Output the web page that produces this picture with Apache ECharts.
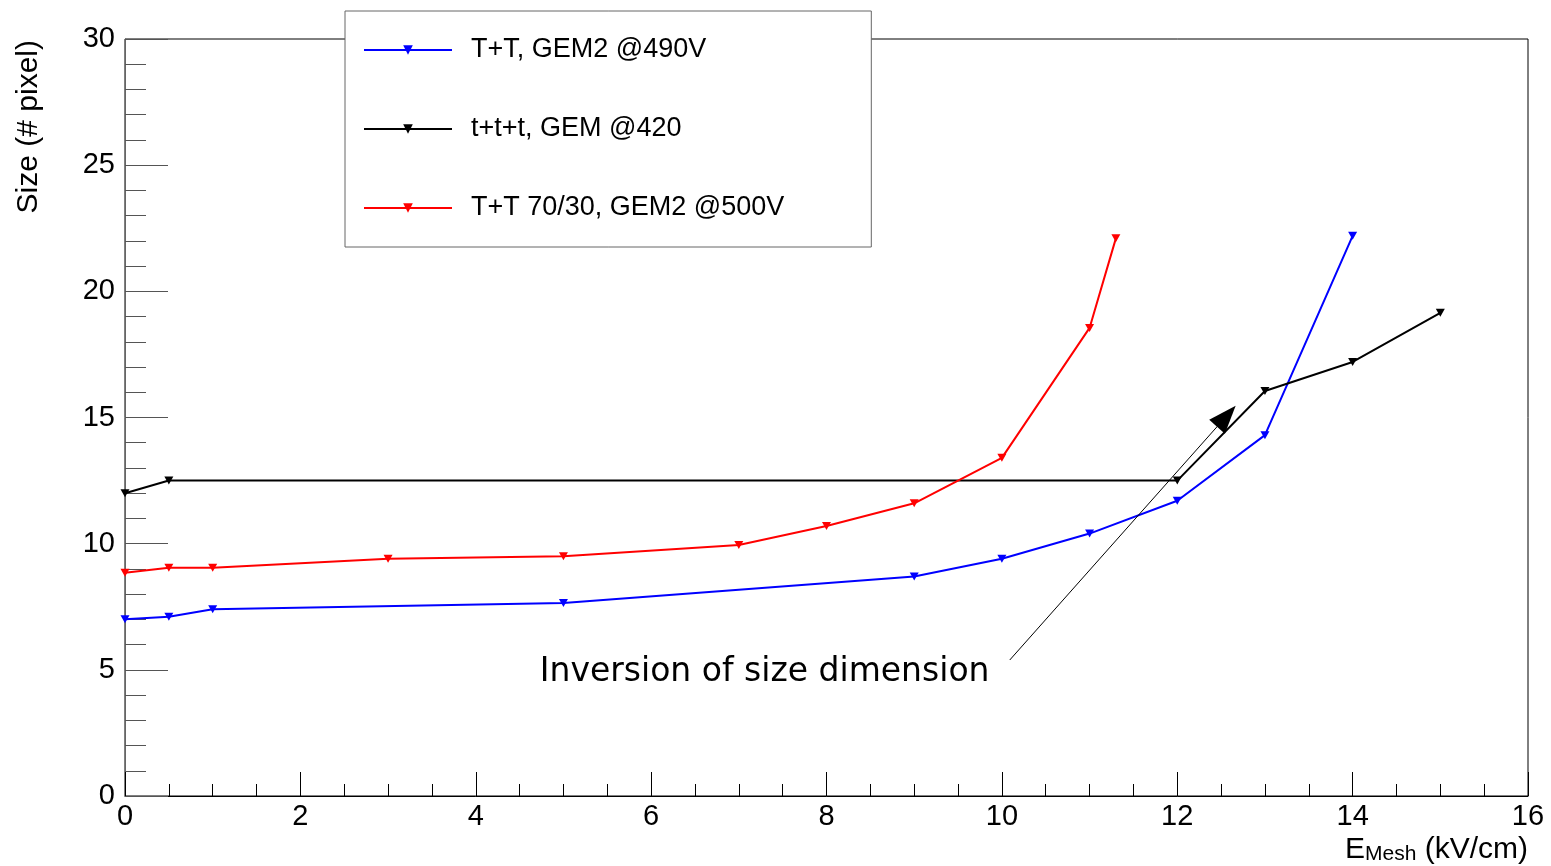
<!DOCTYPE html>
<html>
<head>
<meta charset="utf-8">
<script src="https://cdn.jsdelivr.net/npm/echarts@6/dist/echarts.min.js"></script>
<style>
  html, body { margin: 0; padding: 0; background: #fff; }
  #chart { width: 1551px; height: 866px; }
</style>
</head>
<body>
<div id="chart"></div>
<script>
// Cluster size versus mesh field, three gas / GEM settings
const fieldTT = [0, 0.5, 1, 5, 9, 10, 11, 12, 13, 14];
const sizeTT = [7.0, 7.1, 7.4, 7.65, 8.7, 9.4, 10.4, 11.7, 14.3, 22.2];

const fieldTTT = [0, 0.5, 12, 13, 14, 15];
const sizeTTT = [12.0, 12.5, 12.5, 16.05, 17.2, 19.15];

const fieldTT7030 = [0, 0.5, 1, 3, 5, 7, 8, 9, 10, 11, 11.3];
const sizeTT7030 = [8.85, 9.05, 9.05, 9.4, 9.5, 9.95, 10.7, 11.6, 13.4, 18.55, 22.1];

const seriesNames = ['T+T, GEM2 @490V', 't+t+t, GEM @420', 'T+T 70/30, GEM2 @500V'];
const xTicks = [0, 2, 4, 6, 8, 10, 12, 14, 16];
const yTicks = [0, 5, 10, 15, 20, 25, 30];

// annotation: arrow from the caption towards the crossing point
const noteText = 'Inversion of size dimension';
const notePos = [4.73, 4.91];
const arrowFrom = [10.09, 5.39];
const arrowTo = [12.56, 15.05];

const FONT = '"Liberation Sans", Arial, Helvetica, sans-serif';

function pairs(xs, ys) { return xs.map((x, i) => [x, ys[i]]); }

function lineSeries(name, color, xs, ys, extra) {
  return Object.assign({
    name: name,
    type: 'line',
    data: pairs(xs, ys),
    symbol: 'triangle',
    symbolRotate: 180,
    symbolSize: [9, 8],
    showAllSymbol: true,
    lineStyle: { color: color, width: 2 },
    itemStyle: { color: color },
    emphasis: { disabled: true },
    z: 3
  }, extra || {});
}

const chart = echarts.init(document.getElementById('chart'), null, { renderer: 'canvas' });

const option = {
  animation: false,
  backgroundColor: '#fff',
  grid: {
    left: 125, right: 23, top: 39, bottom: 70,
    show: true, borderColor: '#000', borderWidth: 1, backgroundColor: 'transparent'
  },
  legend: {
    orient: 'vertical',
    left: 345, top: 11,
    padding: [24, 87, 24, 18],
    itemGap: 49,
    itemWidth: 88,
    itemHeight: 12,
    backgroundColor: '#fff',
    borderColor: '#666',
    borderWidth: 1,
    borderRadius: 0,
    textStyle: { fontFamily: FONT, fontSize: 27, color: '#000', lineHeight: 30, padding: [0, 0, 0, 14] },
    data: seriesNames
  },
  xAxis: {
    type: 'value',
    min: xTicks[0], max: xTicks[xTicks.length - 1], interval: 2,
    axisLine: { lineStyle: { color: '#000', width: 1 } },
    axisTick: { inside: true, length: 24, lineStyle: { color: '#000' } },
    minorTick: { show: true, splitNumber: 4, length: 12, lineStyle: { color: '#000' } },
    splitLine: { show: false },
    axisLabel: { fontFamily: FONT, fontSize: 29, color: '#000', margin: 6 }
  },
  yAxis: {
    type: 'value',
    min: yTicks[0], max: yTicks[yTicks.length - 1], interval: 5,
    axisLine: { lineStyle: { color: '#666', width: 1 } },
    axisTick: { inside: true, length: 43, lineStyle: { color: '#555' } },
    minorTick: { show: true, splitNumber: 5, length: 21, lineStyle: { color: '#555' } },
    splitLine: { show: false },
    axisLabel: { fontFamily: FONT, fontSize: 29, color: '#000', margin: 10 }
  },
  series: [
    lineSeries(seriesNames[0], '#0000ff', fieldTT, sizeTT),
    lineSeries(seriesNames[1], '#000000', fieldTTT, sizeTTT, {
      markLine: {
        silent: true,
        animation: false,
        label: { show: false },
        lineStyle: { color: '#000', width: 1, type: 'solid' },
        symbolSize: [21, 28],
        data: [[
          { coord: arrowFrom, symbol: 'none' },
          { coord: arrowTo, symbol: 'triangle' }
        ]]
      }
    }),
    lineSeries(seriesNames[2], '#ff0000', fieldTT7030, sizeTT7030)
  ]
};

chart.setOption(option);

const notePx = chart.convertToPixel({ gridIndex: 0 }, notePos);
chart.setOption({
  graphic: [
    {
      type: 'text',
      x: notePx[0], y: notePx[1],
      style: {
        text: noteText,
        fontFamily: '"DejaVu Sans", "Noto Sans", sans-serif',
        fontSize: 33,
        fill: '#000',
        align: 'left',
        verticalAlign: 'middle'
      },
      z: 10
    },
    {
      type: 'text',
      x: 29, y: 40,
      rotation: Math.PI / 2,
      style: {
        text: 'Size (# pixel)',
        fontFamily: FONT,
        fontSize: 30,
        fill: '#000',
        align: 'right',
        verticalAlign: 'middle'
      }
    },
    {
      type: 'text',
      right: 23, top: 830,
      style: {
        text: '{m|E}{s|Mesh}{m| (kV/cm)}',
        fontFamily: FONT,
        fill: '#000',
        rich: {
          m: { fontFamily: FONT, fontSize: 30, lineHeight: 30, verticalAlign: 'top', fill: '#000' },
          s: { fontFamily: FONT, fontSize: 21, lineHeight: 21, padding: [14, 0, 0, 0], verticalAlign: 'bottom', fill: '#000' }
        }
      }
    }
  ]
});
</script>
</body>
</html>
